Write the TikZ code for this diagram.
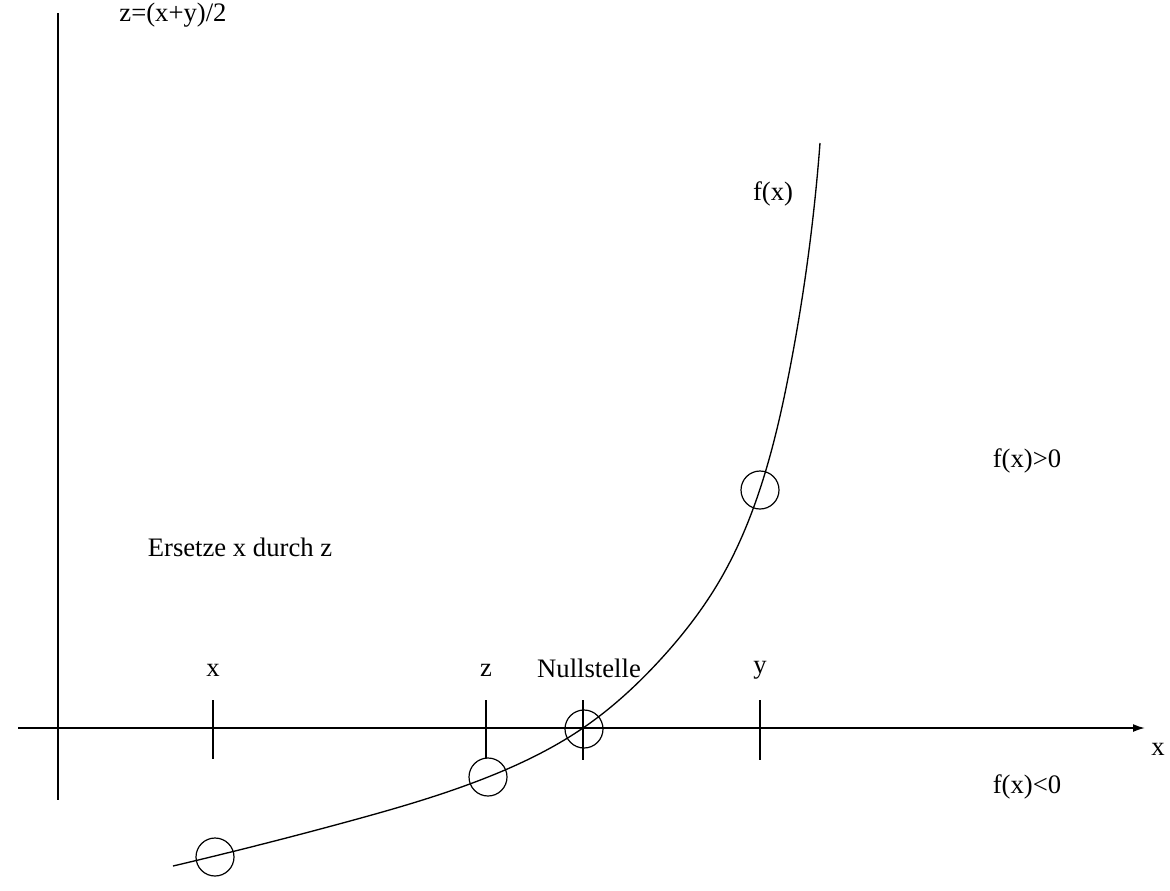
\documentclass[tikz,border=0pt]{standalone}
\usepackage{fontspec}
\setmainfont{Liberation Serif}
\usetikzlibrary{arrows.meta,hobby}
\begin{document}
\begin{tikzpicture}[x=0.75pt,y=-0.75pt,
  lbl/.style={inner sep=0pt,font=\fontsize{20}{22}\selectfont},
  mark circle/.style={circle,draw,line width=0.9pt,minimum size=38*0.75pt,inner sep=0pt},
  axis/.style={line width=1.3pt},
  tickline/.style={line width=1.1pt}]
\useasboundingbox (0,0) rectangle (1170,890);
% axes
\coordinate (vtop) at (58,13);
\coordinate (vbot) at (58,800);
\coordinate (hl) at (18,728);
\coordinate (hr) at (1145,728);
\draw[axis] (vtop) -- (vbot);
\draw[axis,-{Latex[length=9pt,width=6pt]}] (hl) -- (hr);
\node[lbl] (xaxis) at (1158,749) {x};
% ticks
\coordinate (tx1) at (213,700); \coordinate (tx2) at (213,759);
\coordinate (tz1) at (486,700); \coordinate (tz2) at (486,758);
\coordinate (tn1) at (583,700); \coordinate (tn2) at (583,760);
\coordinate (ty1) at (760,700); \coordinate (ty2) at (760,760);
\draw[tickline] (tx1) -- (tx2);
\draw[tickline] (tz1) -- (tz2);
\draw[tickline] (tn1) -- (tn2);
\draw[tickline] (ty1) -- (ty2);
% tick labels
\node[lbl] (lx) at (213,670) {x};
\node[lbl] (lz) at (486,670) {z};
\node[lbl] (ln) at (589,668) {Nullstelle};
\node[lbl] (ly) at (760,670) {y};
% curve
\draw[line width=1pt,use Hobby shortcut]
 (173,866) .. (350,821) .. (488,777) .. (583,728) .. (660,660) .. (720,580)
 .. (760,489) .. (790,368) .. (820,143);
% circles
\node[mark circle] (c1) at (215,857) {};
\node[mark circle] (c2) at (488,777) {};
\node[mark circle] (c3) at (584,729) {};
\node[mark circle] (c4) at (760,490) {};
% labels
\node[lbl] (fx) at (773,194) {f(x)};
\node[lbl] (fpos) at (1027,461) {f(x)>0};
\node[lbl] (fneg) at (1027,787) {f(x)<0};
\node[lbl] (form) at (173,15) {z=(x+y)/2};
\node[lbl] (ers) at (240,547) {Ersetze x durch z};
\end{tikzpicture}
\end{document}
